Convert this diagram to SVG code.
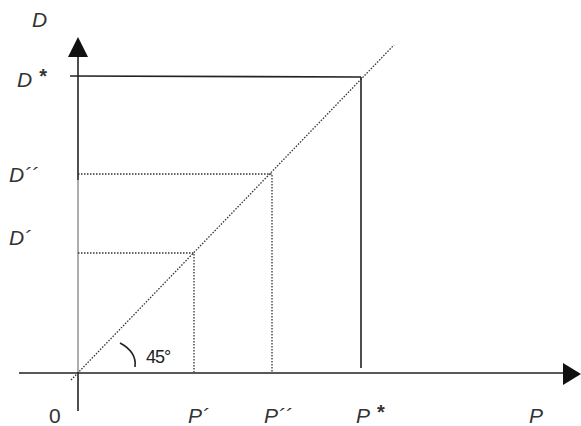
<svg xmlns="http://www.w3.org/2000/svg" width="581" height="426" viewBox="0 0 581 426">
<style>
.lbl{font-family:"Liberation Sans",Arial,sans-serif;font-style:italic;font-size:21px;fill:#333}
.num{font-family:"Liberation Sans",Arial,sans-serif;font-size:21px;fill:#333}
.star{font-style:normal;font-weight:bold;font-size:20px}
.dot{stroke:#333;stroke-width:1.3;stroke-dasharray:1.5 1.5;fill:none}
.ax{stroke:#222;stroke-width:1.6;fill:none}
</style>
<rect width="581" height="426" fill="#fff"/>
<g id="connectors">
<line class="ax" x1="78" y1="57" x2="78" y2="180"/>
<line x1="78" y1="180" x2="78" y2="372" stroke="#999" stroke-width="1.6"/>
<line class="ax" x1="78" y1="372" x2="78" y2="411"/>
<polygon points="78,37 68,57 88,57" fill="#111"/>
<line class="ax" x1="19" y1="373" x2="565" y2="373"/>
<polygon points="563,363 581,374 563,385" fill="#111"/>
<line class="ax" x1="70" y1="76" x2="361" y2="77"/>
<line class="ax" x1="361" y1="77" x2="361" y2="368"/>
<line class="dot" x1="71" y1="380" x2="394" y2="45"/>
<polyline class="dot" points="78,253 194,253 194,372"/>
<polyline class="dot" points="78,174 272,174 272,372"/>
<path d="M120,343 Q137,352 135,367" stroke="#222" stroke-width="1.6" fill="none"/>
</g>
<g id="labels">
<text class="lbl" x="32" y="27">D</text>
<text class="lbl" x="17" y="87">D<tspan class="star" dx="7" dy="-4">*</tspan></text>
<text class="lbl" x="9" y="182">D´´</text>
<text class="lbl" x="9" y="245">D´</text>
<text class="num" x="49" y="423">0</text>
<text class="lbl" x="188" y="423">P´</text>
<text class="lbl" x="264" y="423">P´´</text>
<text class="lbl" x="356" y="423">P<tspan class="star" dx="7" dy="-4">*</tspan></text>
<text class="lbl" x="529" y="423">P</text>
<text x="146" y="363" font-family="Liberation Sans,Arial,sans-serif" font-size="18" letter-spacing="-1" fill="#222">45°</text>
</g>
</svg>
